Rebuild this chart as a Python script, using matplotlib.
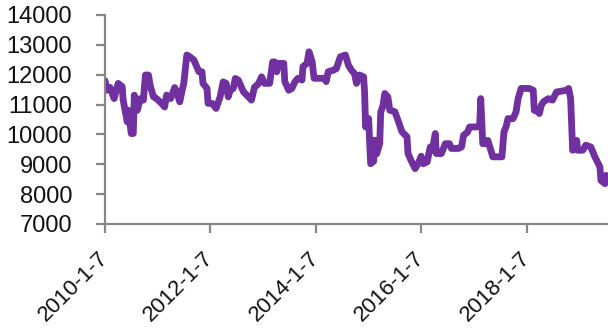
import matplotlib
matplotlib.use("Agg")
import matplotlib.pyplot as plt
import pandas as pd

# Weekly series: offsets in weeks from the first observation, and values
start_date = "2010-01-07"
weeks = [
    0, 2, 5, 9, 13, 17, 18, 22, 23, 26,
    28, 29, 32, 35, 38, 40, 43, 45, 48, 51,
    56, 59, 61, 65, 69, 71, 74, 76, 78, 81,
    84, 88, 93, 96, 97, 101, 102, 106, 110, 114,
    117, 120, 122, 124, 127, 129, 132, 137, 142, 145,
    148, 152, 155, 158, 163, 166, 168, 170, 172, 177,
    178, 182, 185, 188, 191, 195, 196, 200, 202, 205,
    207, 213, 218, 219, 221, 226, 229, 233, 238, 241,
    244, 247, 249, 252, 256, 257, 258, 261, 262, 263,
    266, 267, 269, 270, 272, 273, 275, 277, 280, 282,
    287, 290, 294, 299, 300, 303, 307, 310, 313, 315,
    319, 322, 324, 327, 328, 333, 337, 341, 343, 350,
    353, 355, 359, 361, 368, 371, 372, 374, 378, 379,
    381, 384, 393, 395, 397, 399, 404, 407, 409, 412,
    420, 424, 425, 429, 430, 432, 434, 439, 443, 447,
    457, 459, 461, 462, 463, 467, 468, 473, 476, 481,
    485, 490, 491, 495, 496,
]
values = [
    11800, 11480, 11575, 11200, 11710, 11600, 11150, 10420, 10810, 10030,
    10030, 11315, 10810, 11200, 11150, 11990, 11990, 11600, 11260, 11200,
    11040, 10920, 11320, 11200, 11570, 11420, 11090, 11420, 11710, 12660,
    12600, 12490, 12100, 12100, 11710, 11540, 11040, 11040, 10870, 11260,
    11760, 11710, 11260, 11480, 11540, 11875, 11820, 11430, 11260, 11150,
    11580, 11700, 11930, 11710, 11710, 12430, 12430, 12100, 12380, 12380,
    11770, 11480, 11540, 11760, 11880, 11820, 12270, 12380, 12770, 12450,
    11880, 11880, 11880, 11770, 12100, 12150, 12200, 12600, 12660, 12320,
    12150, 12040, 11710, 11990, 11930, 11430, 10250, 10530, 9805, 9020,
    9100, 9805, 9350, 9470, 9700, 10760, 10930, 11370, 11260, 10810,
    10760, 10480, 10090, 9920, 9360, 9130, 8855, 9020, 9270, 9020,
    9080, 9580, 9470, 10030, 9360, 9360, 9690, 9690, 9530, 9530,
    9580, 9970, 10080, 10250, 10250, 10300, 11200, 9690, 9690, 9800,
    9580, 9250, 9250, 10090, 10250, 10530, 10530, 10760, 11200, 11540,
    11540, 11480, 10810, 10760, 10700, 10980, 11090, 11200, 11150, 11420,
    11480, 11540, 11200, 10370, 9470, 9800, 9470, 9470, 9640, 9580,
    9250, 8910, 8460, 8350, 8630,
]
tick_dates = ["2010-01-07", "2012-01-07", "2014-01-07", "2016-01-07", "2018-01-07"]
tick_labels = ["2010-1-7", "2012-1-7", "2014-1-7", "2016-1-7", "2018-1-7"]
y_ticks = [7000, 8000, 9000, 10000, 11000, 12000, 13000, 14000]

plt.rcParams["font.family"] = ["Liberation Sans", "DejaVu Sans"]

start = pd.Timestamp(start_date)
dates = start + pd.to_timedelta([w * 7 for w in weeks], unit="D")

fig = plt.figure(figsize=(6.08, 3.31), dpi=100)
ax = fig.add_axes([105 / 608, 1 - 224 / 331, 1 - 105 / 608, (224 - 15) / 331])

ax.plot(dates, values, color="#7030A0", lw=4.9,
        solid_joinstyle="round", solid_capstyle="round")

ax.set_ylim(y_ticks[0], y_ticks[-1])
ax.set_yticks(y_ticks)
ax.set_xlim(start, start + pd.Timedelta(days=498 * 7))
ax.set_xticks(pd.to_datetime(tick_dates))
ax.set_xticklabels(tick_labels, rotation=45, ha="right", va="center",
                   rotation_mode="anchor", fontsize=16)

axis_grey = "#868686"
for side in ("top", "right"):
    ax.spines[side].set_visible(False)
for side in ("left", "bottom"):
    ax.spines[side].set_color(axis_grey)
    ax.spines[side].set_linewidth(1.6)

ax.tick_params(axis="both", direction="out", length=6.5, width=1.6,
               color=axis_grey, labelcolor="#111111")
ax.tick_params(axis="y", pad=17, labelsize=17)
ax.tick_params(axis="x", pad=16)

fig.savefig("out.png", dpi=100)
